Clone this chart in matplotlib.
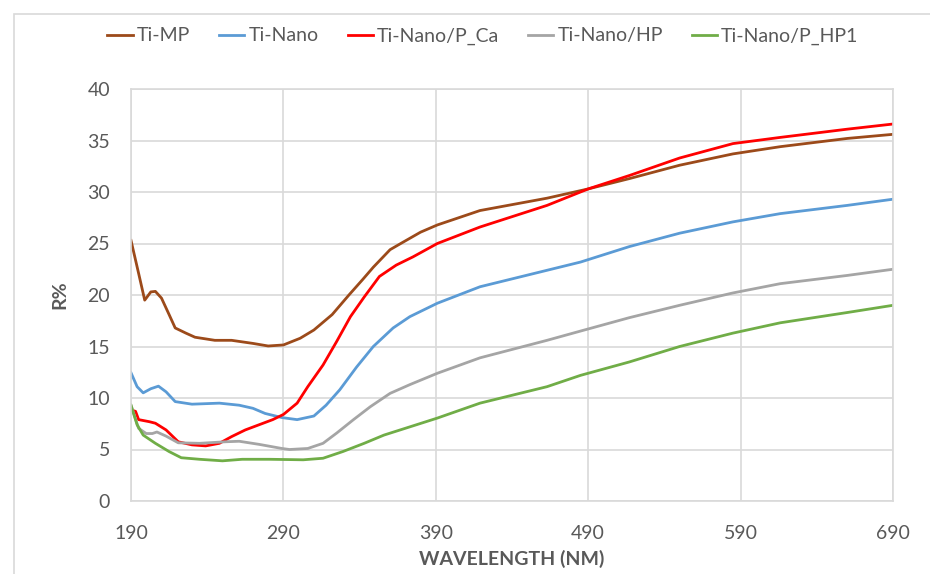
import matplotlib
matplotlib.use("Agg")
import matplotlib.pyplot as plt
from matplotlib.patches import Rectangle

plt.rcParams['font.family'] = ['Lato', 'DejaVu Sans']

# values
wl_mp = [190, 195, 199, 203, 206, 210, 215, 219, 226, 232, 245, 256, 270, 280, 290, 301, 310, 322, 333,
         342, 349, 360, 367, 380, 391, 419, 463, 490, 517, 550, 585, 616, 660, 690]
r_mp = [25.3, 22.1, 19.5, 20.3, 20.35, 19.7, 18.1, 16.8, 16.3, 15.9, 15.6, 15.6, 15.3, 15.05, 15.15, 15.8,
        16.6, 18.1, 20.0, 21.5, 22.7, 24.4, 25.0, 26.1, 26.8, 28.2, 29.4, 30.3, 31.3, 32.6, 33.7, 34.4,
        35.2, 35.6]

wl_nano = [190, 194, 198, 203, 208, 213, 219, 230, 248, 261, 270, 278, 289, 299, 310, 318, 327, 338, 349,
           362, 373, 391, 419, 463, 485, 517, 550, 585, 616, 660, 690]
r_nano = [12.45, 11.1, 10.5, 10.9, 11.15, 10.6, 9.65, 9.4, 9.5, 9.3, 9.0, 8.5, 8.1, 7.9, 8.25, 9.3, 10.8,
          13.0, 15.0, 16.8, 17.9, 19.2, 20.8, 22.4, 23.2, 24.7, 26.0, 27.1, 27.9, 28.7, 29.3]

wl_pca = [190, 193, 195, 202, 206, 213, 221, 230, 239, 248, 256, 265, 274, 283, 290, 299, 306, 316, 325,
          334, 343, 353, 364, 375, 391, 419, 463, 490, 517, 550, 585, 616, 660, 690]
r_pca = [8.85, 8.7, 7.9, 7.7, 7.55, 6.9, 5.75, 5.45, 5.35, 5.6, 6.25, 6.9, 7.4, 7.9, 8.4, 9.5, 11.1, 13.2,
         15.5, 17.9, 19.8, 21.8, 22.9, 23.7, 25.0, 26.6, 28.7, 30.3, 31.6, 33.3, 34.7, 35.3, 36.1, 36.6]

wl_hp = [190, 195, 200, 204, 207, 213, 221, 235, 252, 261, 274, 289, 294, 306, 316, 325, 336, 347, 360,
         373, 391, 419, 463, 485, 517, 550, 585, 616, 660, 690]
r_hp = [9.3, 7.05, 6.55, 6.55, 6.7, 6.3, 5.65, 5.6, 5.75, 5.8, 5.5, 5.1, 5.0, 5.1, 5.6, 6.6, 7.9, 9.15,
        10.45, 11.3, 12.4, 13.9, 15.6, 16.5, 17.8, 19.0, 20.2, 21.1, 21.9, 22.5]

wl_hp1 = [190, 194, 198, 206, 215, 223, 235, 250, 263, 281, 303, 316, 329, 343, 356, 373, 391, 419, 463,
          485, 517, 550, 585, 616, 660, 690]
r_hp1 = [9.3, 7.4, 6.4, 5.6, 4.8, 4.2, 4.05, 3.9, 4.05, 4.05, 4.0, 4.15, 4.8, 5.6, 6.4, 7.2, 8.05, 9.5,
         11.1, 12.2, 13.5, 15.0, 16.3, 17.3, 18.3, 19.0]

names = ['Ti-MP', 'Ti-Nano', 'Ti-Nano/P_Ca', 'Ti-Nano/HP', 'Ti-Nano/P_HP1']
colors = ['#9C4A1A', '#5B9BD5', '#FF0000', '#A5A5A5', '#70AD47']
series = [(wl_mp, r_mp), (wl_nano, r_nano), (wl_pca, r_pca), (wl_hp, r_hp), (wl_hp1, r_hp1)]

fig = plt.figure(figsize=(9.3, 5.74), dpi=100)
fig.patches.append(Rectangle((14 / 930, -0.1), 1.2, 1 - 14 / 574 + 0.1, transform=fig.transFigure,
                             fill=False, edgecolor='#d9d9d9', linewidth=1.2))
ax = fig.add_axes([131 / 930, 1 - 501 / 574, (893 - 131) / 930, (501 - 89) / 574])

for (x, y), name, c in zip(series, names, colors):
    ax.plot(x, y, color=c, linewidth=2, label=name)

ax.set_xlim(190, 690)
ax.set_ylim(0, 40)
ax.set_xticks(range(190, 691, 100))
ax.set_yticks(range(0, 41, 5))
ax.grid(True, color='#d9d9d9', linewidth=1.2)
ax.set_axisbelow(True)
for s in ax.spines.values():
    s.set_color('#d9d9d9')
    s.set_linewidth(1.2)
ax.tick_params(length=0, labelsize=14, colors='#595959')
ax.tick_params(axis='x', pad=17)
ax.tick_params(axis='y', pad=15)

ax.set_xlabel('WAVELENGTH (NM)', fontsize=14, fontweight='bold', color='#595959', labelpad=6)
ax.set_ylabel('R%', fontsize=14, fontweight='bold', color='#595959', labelpad=14)

leg = fig.legend(loc='center', bbox_to_anchor=(483 / 930, 1 - 36 / 574), ncol=5, frameon=False,
                 fontsize=14, handlelength=1.3, handletextpad=0.2, columnspacing=1.5)
for t in leg.get_texts():
    t.set_color('#595959')

fig.savefig('out.png', dpi=100)
